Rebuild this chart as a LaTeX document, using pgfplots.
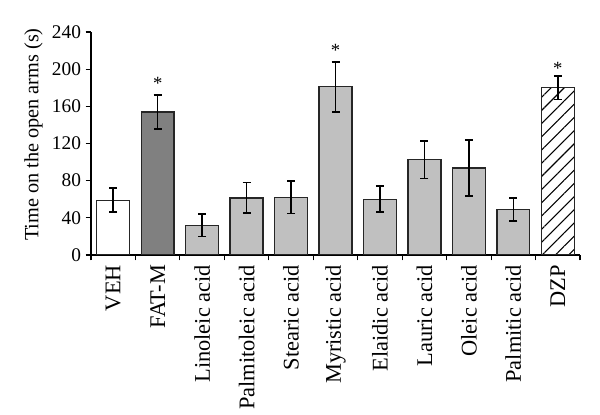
\documentclass[border=0pt]{standalone}
\usepackage{pgfplots}
\pgfplotsset{compat=1.18}
\usepackage{fontspec}
\setmainfont{Liberation Serif}
\usetikzlibrary{patterns.meta}
\definecolor{darkbar}{RGB}{128,128,128}
\definecolor{lightbar}{RGB}{192,192,192}
\begin{document}
\begin{tikzpicture}[x=1pt,y=1pt]
  \begin{axis}[
    at={(0,0)}, anchor=south west,
    scale only axis,
    width=366.75pt, height=167.25pt,
    ymin=0, ymax=240,
    xmin=-0.5, xmax=10.5,
    ytick={0,40,...,240},
    xtick={0,...,10},
    xticklabels={VEH,FAT-M,Linoleic acid,Palmitoleic acid,Stearic acid,Myristic acid,
      Elaidic acid,Lauric acid,Oleic acid,Palmitic acid,DZP},
    y tick label style={font=\fontsize{14.5}{16}\selectfont},
    x tick label style={rotate=90,anchor=east,font=\fontsize{16.8}{18}\selectfont},
    major x tick style={draw=none},
    minor xtick={-0.5,0.5,...,10.5},
    minor x tick style={black,line width=0.8pt},
    minor tick length=4pt,
    major tick length=4pt,
    tick align=outside,
    axis x line*=bottom,
    axis y line*=left,
    axis line style={line width=0.8pt,-},
    ytick style={black,line width=0.8pt},
    /pgf/number format/assume math mode=true,
    ylabel={Time on the open arms (s)},
    ylabel style={font=\fontsize{15.2}{17}\selectfont, at={(ticklabel cs:0.54)}},
    ybar, bar width=0.74, bar shift=0pt,
    every axis plot/.append style={line width=1pt, draw=black!85,
      error bars/error bar style={line width=1.2pt,black},
      error bars/error mark options={rotate=90,mark size=3pt,line width=1.2pt,black}},
  ]
    % VEH
    \addplot[fill=white, error bars/.cd, y dir=both, y explicit]
      coordinates {(0,59) +- (0,13)};
    % FAT-M
    \addplot[fill=darkbar, error bars/.cd, y dir=both, y explicit]
      coordinates {(1,154) +- (0,18.5)};
    % fatty acids
    \addplot[fill=lightbar, error bars/.cd, y dir=both, y explicit]
      coordinates {
        (2,32) +- (0,12)
        (3,61.5) +- (0,16.5)
        (4,62) +- (0,17.5)
        (5,181) +- (0,27)
        (6,60) +- (0,14)
        (7,102.5) +- (0,20)
        (8,93.5) +- (0,30)
        (9,49) +- (0,12.5)
      };
    % DZP
    \addplot[fill=white, postaction={pattern={Lines[angle=45,distance=7pt,line width=0.8pt]}},
      error bars/.cd, y dir=both, y explicit]
      coordinates {(10,180) +- (0,12.5)};
    \node[font=\fontsize{14}{15}\selectfont] at (axis cs:1,185) {*};
    \node[font=\fontsize{14}{15}\selectfont] at (axis cs:5,220) {*};
    \node[font=\fontsize{14}{15}\selectfont] at (axis cs:10,201) {*};
  \end{axis}
  \path (-68.25,-109.5) rectangle (381.75,191.25);
\end{tikzpicture}
\end{document}
